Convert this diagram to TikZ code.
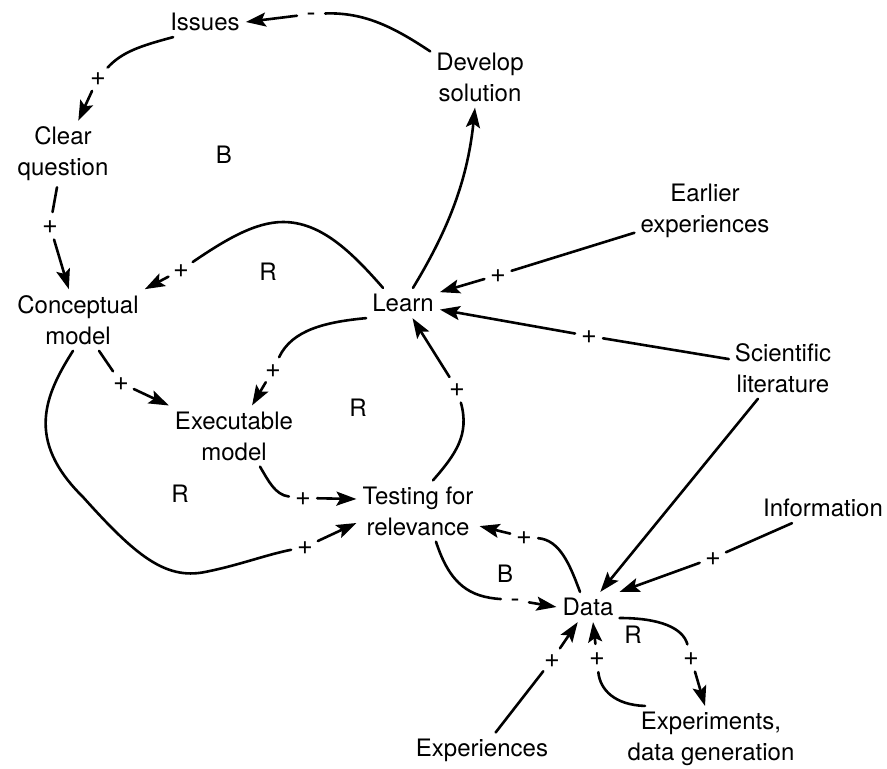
\documentclass[tikz,border=0pt]{standalone}
\usepackage{fontspec}
\setmainfont{TeX Gyre Heros}
\usetikzlibrary{arrows.meta}
\begin{document}
\begin{tikzpicture}[x=1pt,y=-1pt,
  every node/.style={font=\fontsize{24}{31}\selectfont},
  lbl/.style={align=center, inner sep=6pt},
  pol/.style={circle, inner sep=0pt, minimum size=28pt,
    font=\fontsize{27}{31}\selectfont, text height=14.3pt, text depth=0pt},
  link/.style={line width=2.6pt, line cap=round},
  arr/.style={link, -{Stealth[length=20pt,width=14pt,inset=4pt]}}]
\useasboundingbox (0,0) rectangle (887,769);

% concepts
\node[lbl] (issues)  at (205,22)  {Issues};
\node[lbl] (develop) at (480,77)  {Develop\\solution};
\node[lbl] (clear)   at (63,154)  {Clear\\question};
\node[lbl] (earlier) at (705,211) {Earlier\\experiences};
\node[lbl] (concept) at (78,320)  {Conceptual\\model};
\node[lbl] (learn)   at (403,303) {Learn};
\node[lbl] (sci)     at (783,368) {Scientific\\literature};
\node[lbl] (exec)    at (234,436) {Executable\\model};
\node[lbl] (test)    at (418,511) {Testing for\\relevance};
\node[lbl] (info)    at (823,508) {Information};
\node[lbl] (data)    at (588,607) {Data};
\node[lbl] (exps)    at (482,750) {Experiences};
\node[lbl] (expm)    at (711,739) {Experiments,\\data generation};

% loop labels
\node (L1) at (224,155) {B};
\node (L2) at (268,272) {R};
\node (L3) at (358,408) {R};
\node (L4) at (180,494) {R};
\node (L5) at (505,574) {B};
\node (L6) at (633,635) {R};

% polarity signs
\node[pol] (s1)  at (311,14)  {-};
\node[pol] (s2)  at (98,78)   {+};
\node[pol] (s3)  at (50,226)  {+};
\node[pol] (s4)  at (181,270) {+};
\node[pol] (s6)  at (498,275) {+};
\node[pol] (s7)  at (589,336) {+};
\node[pol] (s9)  at (273,370) {+};
\node[pol] (s10) at (121,383) {+};
\node[pol] (s11) at (303,498) {+};
\node[pol] (s12) at (305,547) {+};
\node[pol] (s13) at (457,389) {+};
\node[pol] (s14) at (524,537) {+};
\node[pol] (s15) at (515,600) {-};
\node[pol] (s16) at (713,558) {+};
\node[pol] (s17) at (552,660) {+};
\node[pol] (s18) at (597,658) {+};
\node[pol] (s19) at (691,658) {+};

% develop -> issues
\draw[link] ([yshift=-5pt]develop.north west) .. controls (395,28) and (365,12) .. (s1);
\draw[arr] (s1) -- (issues.east);
% issues -> clear
\draw[link] ([xshift=9pt]issues.south west) .. controls (140,46) and (122,52) .. (s2);
\draw[arr] (s2) -- (clear);
% clear -> concept
\draw[link] (clear) -- (s3);
\draw[arr] (s3) -- (concept);
% learn -> concept
\draw[link] ([xshift=-20pt]learn.north) .. controls (350,250) and (320,222) .. (283,222)
  .. controls (255,222) and (225,240) .. (s4);
\draw[arr] (s4) -- (concept.north east);
% learn -> develop
\draw[arr] ([xshift=10pt]learn.north) .. controls (445,235) and (467,185) .. ([xshift=-5pt]develop.south);
% earlier -> learn
\draw[link] (earlier) -- (s6);
\draw[arr] (s6) -- (learn);
% sci -> learn
\draw[link] (sci) -- (s7);
\draw[arr] (s7) -- (learn);
% sci -> data
\draw[arr] (sci) -- (data);
% learn -> exec
\draw[link] (learn.south west) .. controls (325,322) and (292,330) .. (s9);
\draw[arr] (s9) -- (exec);
% concept -> exec
\draw[link] (concept) -- (s10);
\draw[arr] (s10) -- (exec);
% exec -> test
\draw[link] ([xshift=26pt]exec.south) .. controls (268,480) and (275,495) .. (s11);
\draw[arr] (s11) -- ([yshift=12pt]test.west);
% concept -> test
\draw[link] ([xshift=-5pt]concept.south) .. controls (45,395) and (25,440) .. (83,497)
  .. controls (135,555) and (165,580) .. (205,572)
  .. controls (240,565) and (265,555) .. (s12);
\draw[arr] (s12) -- ([yshift=-12pt]test.west);
% test -> learn
\draw[link] ([xshift=15pt]test.north) .. controls (455,455) and (470,435) .. (s13);
\draw[arr] (s13) -- (learn);
% data -> test
\draw[link] ([xshift=-8pt]data.north) .. controls (570,565) and (560,540) .. (s14);
\draw[arr] (s14) -- (test);
% test -> data
\draw[link] ([xshift=18pt]test.south) .. controls (450,585) and (470,597) .. (s15);
\draw[arr] (s15) -- (data.west);
% info -> data
\draw[link] ([xshift=-31pt]info.south) -- (s16);
\draw[arr] (s16) -- (data.north east);
% experiences -> data
\draw[link] (exps) -- (s17);
\draw[arr] (s17) -- (data);
% experiments -> data
\draw[link] ([xshift=-66pt]expm.north) .. controls (615,705) and (600,690) .. (s18);
\draw[arr] (s18) -- ([xshift=5pt]data.south);
% data -> experiments
\draw[link] ([yshift=-11pt]data.east) .. controls (660,618) and (683,628) .. (s19);
\draw[arr] (s19) -- ([xshift=-6pt]expm.north);
\end{tikzpicture}
\end{document}
